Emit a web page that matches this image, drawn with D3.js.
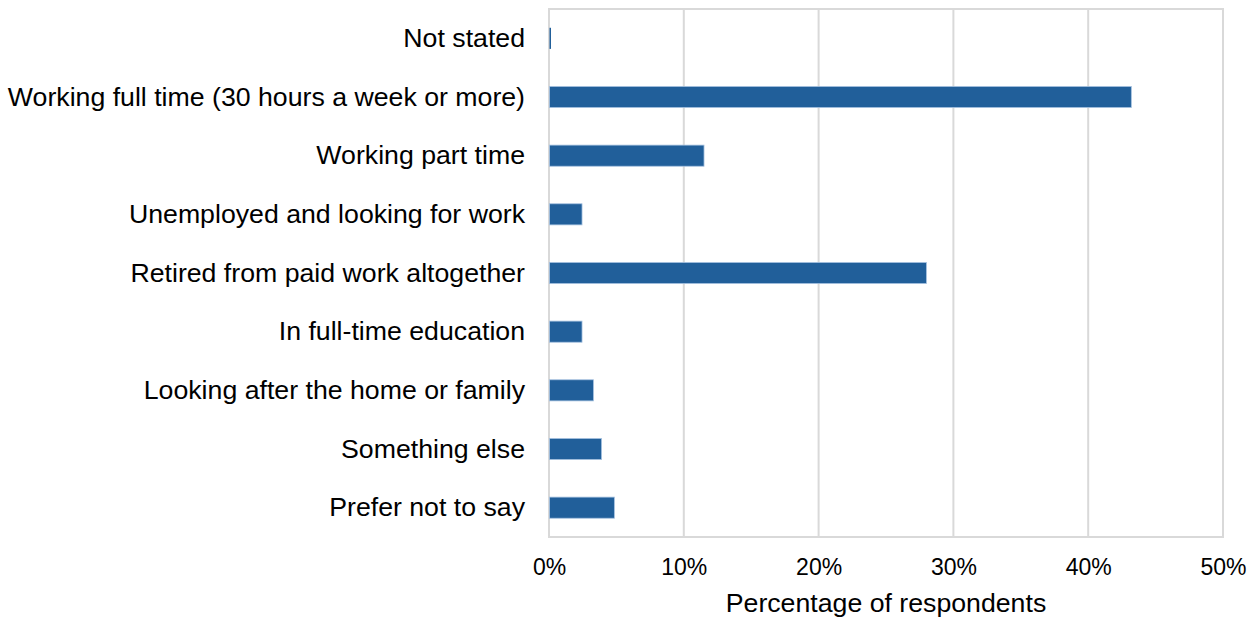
<!DOCTYPE html>
<html>
<head>
<meta charset="utf-8">
<script src="https://cdn.jsdelivr.net/npm/d3@7"></script>
<style>
  html, body { margin: 0; padding: 0; background: #fff; }
  svg { display: block; font-family: "Liberation Sans", Arial, sans-serif; }
</style>
</head>
<body>
<svg id="chart" width="1256" height="617"></svg>
<script>
// Employment status of respondents (share of all respondents, %)
const categories = [
  "Not stated",
  "Working full time (30 hours a week or more)",
  "Working part time",
  "Unemployed and looking for work",
  "Retired from paid work altogether",
  "In full-time education",
  "Looking after the home or family",
  "Something else",
  "Prefer not to say"
];
const values = [0.1, 43.2, 11.5, 2.45, 28.0, 2.45, 3.3, 3.9, 4.85];
const tickValues = [0, 10, 20, 30, 40, 50];
const axisTitle = "Percentage of respondents";

const svg = d3.select("#chart");
const margin = { top: 9, right: 33, bottom: 80, left: 549 };
const width = 1256 - margin.left - margin.right;
const height = 617 - margin.top - margin.bottom;

const g = svg.append("g").attr("transform", `translate(${margin.left},${margin.top})`);

const x = d3.scaleLinear().domain([0, 50]).range([0, width]);
const y = d3.scaleBand().domain(categories).range([0, height]).paddingInner(0.64).paddingOuter(0.32);

// vertical gridlines
g.append("g")
  .selectAll("line")
  .data(tickValues)
  .join("line")
  .attr("x1", d => x(d)).attr("x2", d => x(d))
  .attr("y1", 0).attr("y2", height)
  .attr("stroke", "#d9d9d9")
  .attr("stroke-width", 2);

// plot frame
g.append("rect")
  .attr("x", 0).attr("y", 0)
  .attr("width", width).attr("height", height)
  .attr("fill", "none")
  .attr("stroke", "#d9d9d9")
  .attr("stroke-width", 2);

// bars (thin light edge only on bars wide enough to show it)
g.append("g")
  .selectAll("rect")
  .data(values)
  .join("rect")
  .attr("x", x(0) + 0.5)
  .attr("y", (d, i) => y(categories[i]))
  .attr("width", d => Math.max(1.5, x(d) - x(0) - 0.5))
  .attr("height", y.bandwidth())
  .attr("fill", "#215f9a")
  .attr("stroke", d => (x(d) - x(0) > 3 ? "#a7c2e0" : "none"))
  .attr("stroke-width", 0.8);

// x axis
const xAxis = d3.axisBottom(x)
  .tickValues(tickValues)
  .tickFormat(d => d + "%")
  .tickSize(0)
  .tickPadding(22);
const xg = g.append("g").attr("transform", `translate(0,${height})`).call(xAxis);
xg.select(".domain").remove();
xg.selectAll("text")
  .attr("font-size", 23)
  .attr("fill", "#000")
  .attr("font-family", "Liberation Sans, Arial, sans-serif");

// y axis labels
const yAxis = d3.axisLeft(y).tickSize(0).tickPadding(24);
const yg = g.append("g").call(yAxis);
yg.select(".domain").remove();
yg.selectAll("text")
  .attr("font-size", 26.7)
  .attr("fill", "#000")
  .attr("font-family", "Liberation Sans, Arial, sans-serif");

// axis title
g.append("text")
  .attr("x", width / 2)
  .attr("y", height + 75)
  .attr("text-anchor", "middle")
  .attr("font-size", 26.7)
  .attr("fill", "#000")
  .text(axisTitle);
</script>
</body>
</html>
